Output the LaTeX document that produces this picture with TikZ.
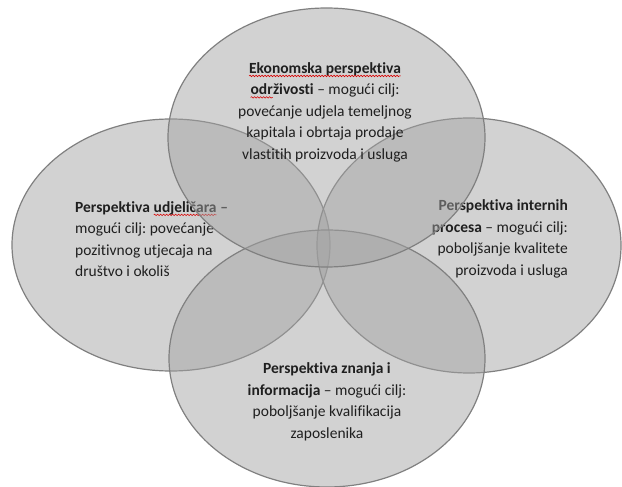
\documentclass[tikz,border=0pt]{standalone}
\usepackage{fontspec}
\setmainfont[Ligatures=NoCommon]{Carlito}
\usetikzlibrary{shapes.geometric,decorations.pathmorphing}
\frenchspacing
\tikzset{
  bubble/.style={ellipse, inner sep=0pt, draw=black!50, line width=1.2pt,
    fill=black!36, fill opacity=0.48},
  label/.style={text=black!88, inner sep=0pt,
    font=\fontsize{15.5pt}{21.5pt}\selectfont},
  squig/.style={draw=red!85!black, line width=0.55pt, decorate,
    decoration={snake, amplitude=0.75pt, segment length=3pt}}
}
\newcommand\sqw[1]{\tikz[baseline=(sqwt.base)]{\node[inner sep=0pt,outer sep=0pt,anchor=base](sqwt){#1};\path[squig] ([yshift=-2.8pt]sqwt.base west) -- ([yshift=-2.8pt]sqwt.base east);}}
\begin{document}
\begin{tikzpicture}[x=1pt,y=-1pt]
\useasboundingbox[fill=white] (0,0) rectangle (622,487);
% left
\node[bubble, minimum width=318pt, minimum height=252pt] (L) at (171,245) {};
\node[label, align=left, anchor=west] (Lt) at (75,239)
  {\textbf{Perspektiva \sqw{udjeličara} –}\\
   mogući cilj: povećanje\\
   pozitivnog utjecaja na\\
   društvo i okoliš};
% right
\node[bubble, minimum width=304pt, minimum height=255pt] (R) at (469,245.5) {};
\node[label, align=right, anchor=east] (Rt) at (568,239)
  {\textbf{Perspektiva internih}\\
   \textbf{procesa} – mogući cilj:\\
   poboljšanje kvalitete\\
   proizvoda i usluga};
% bottom
\node[bubble, minimum width=316pt, minimum height=257pt] (B) at (327,358.5) {};
\node[label, align=center] (Bt) at (327,402)
  {\textbf{Perspektiva znanja i}\\
   \textbf{informacija} – mogući cilj:\\
   poboljšanje kvalifikacija\\
   zaposlenika};
% top
\node[bubble, minimum width=317pt, minimum height=259pt] (T) at (326.5,137.5) {};
\node[label, align=center] (Tt) at (325,112)
  {\textbf{\sqw{Ekonomska perspektiva}}\\
   \textbf{\sqw{odr}živosti} – mogući cilj:\\
   povećanje udjela temeljnog\\
   kapitala i obrtaja prodaje\\
   vlastitih proizvoda i usluga};
\end{tikzpicture}
\end{document}
